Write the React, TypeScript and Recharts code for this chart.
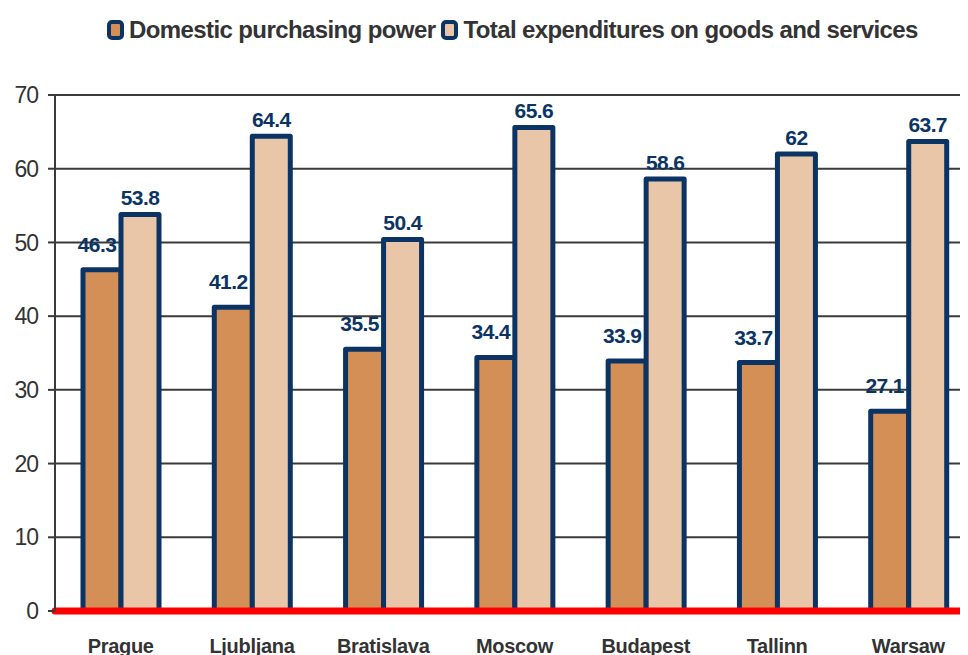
import React from 'react';
import {
  BarChart,
  Bar,
  XAxis,
  YAxis,
  CartesianGrid,
  ReferenceLine,
  LabelList,
} from 'recharts';

const cities = ['Prague', 'Ljubljana', 'Bratislava', 'Moscow', 'Budapest', 'Tallinn', 'Warsaw'];
const purchasingPower = [46.3, 41.2, 35.5, 34.4, 33.9, 33.7, 27.1];
const totalExpenditures = [53.8, 64.4, 50.4, 65.6, 58.6, 62, 63.7];
const yTicks = [0, 10, 20, 30, 40, 50, 60, 70];

const seriesNames = ['Domestic purchasing power', 'Total expenditures on goods and services'];

const NAVY = '#0b3464';
const ORANGE = '#d48f57';
const BEIGE = '#e9c6a7';
const FONT = '"Liberation Sans", Arial, sans-serif';

const data = cities.map((city, i) => ({
  city,
  power: purchasingPower[i],
  total: totalExpenditures[i],
}));

// label for the left bar sits a bit higher and to the left
function PowerLabel(props: any) {
  const { x, y, width, value } = props;
  return (
    <text
      x={x + width / 2 - 5}
      y={y - 18}
      textAnchor="middle"
      fill={NAVY}
      fontFamily={FONT}
      fontWeight="bold"
      fontSize={21}
      letterSpacing={-0.6}
    >
      {value}
    </text>
  );
}

function TotalLabel(props: any) {
  const { x, y, width, value } = props;
  return (
    <text
      x={x + width / 2}
      y={y - 9}
      textAnchor="middle"
      fill={NAVY}
      fontFamily={FONT}
      fontWeight="bold"
      fontSize={21}
      letterSpacing={-0.6}
    >
      {value}
    </text>
  );
}

function CityTick(props: any) {
  const { x, y, payload } = props;
  return (
    <text
      x={x}
      y={y + 40}
      textAnchor="middle"
      fill="#333"
      fontFamily={FONT}
      fontWeight="bold"
      fontSize={20}
      letterSpacing={-0.3}
    >
      {payload.value}
    </text>
  );
}

function LegendIcon({ fill }: { fill: string }) {
  return (
    <svg width={17} height={20} style={{ display: 'block', marginRight: 5 }}>
      <rect x={2} y={2} width={13} height={16} rx={3} fill={fill} stroke={NAVY} strokeWidth={4} />
    </svg>
  );
}

export default function App() {
  return (
    <div style={{ position: 'relative', width: 960, height: 647, overflow: 'hidden', background: '#fff' }}>
      <div
        style={{
          position: 'absolute',
          top: 8,
          left: 99,
          display: 'flex',
          alignItems: 'center',
          fontFamily: FONT,
          fontWeight: 'bold',
          fontSize: 24,
          letterSpacing: -0.6,
          color: '#333',
          whiteSpace: 'nowrap',
        }}
      >
        <LegendIcon fill={ORANGE} />
        <span style={{ marginRight: 6 }}>{seriesNames[0]}</span>
        <LegendIcon fill={BEIGE} />
        <span>{seriesNames[1]}</span>
      </div>
      <BarChart
        width={966}
        height={647}
        data={data}
        margin={{ top: 87, right: 0, bottom: 4, left: 0 }}
        barGap={0}
        barSize={38}
      >
        <CartesianGrid vertical={false} stroke="#3a3a3a" strokeWidth={2} />
        <XAxis
          dataKey="city"
          axisLine={false}
          tickLine={false}
          tickSize={0}
          tick={<CityTick />}
          interval={0}
          height={40}
        />
        <YAxis
          domain={[0, 70]}
          ticks={yTicks}
          interval={0}
          width={47}
          axisLine={{ stroke: '#3a3a3a', strokeWidth: 2 }}
          tickLine={{ stroke: '#3a3a3a', strokeWidth: 2 }}
          tickSize={7}
          tickMargin={10}
          tick={{ fill: '#333', fontSize: 23, fontFamily: FONT, letterSpacing: -1 }}
        />
        <Bar
          dataKey="power"
          name={seriesNames[0]}
          fill={ORANGE}
          stroke={NAVY}
          strokeWidth={5}
          strokeLinejoin="round"
          isAnimationActive={false}
        >
          <LabelList dataKey="power" content={<PowerLabel />} />
        </Bar>
        <Bar
          dataKey="total"
          name={seriesNames[1]}
          fill={BEIGE}
          stroke={NAVY}
          strokeWidth={5}
          strokeLinejoin="round"
          isAnimationActive={false}
        >
          <LabelList dataKey="total" content={<TotalLabel />} />
        </Bar>
        <ReferenceLine y={0} stroke="#ff0000" strokeWidth={7} strokeLinecap="round" />
      </BarChart>
    </div>
  );
}
